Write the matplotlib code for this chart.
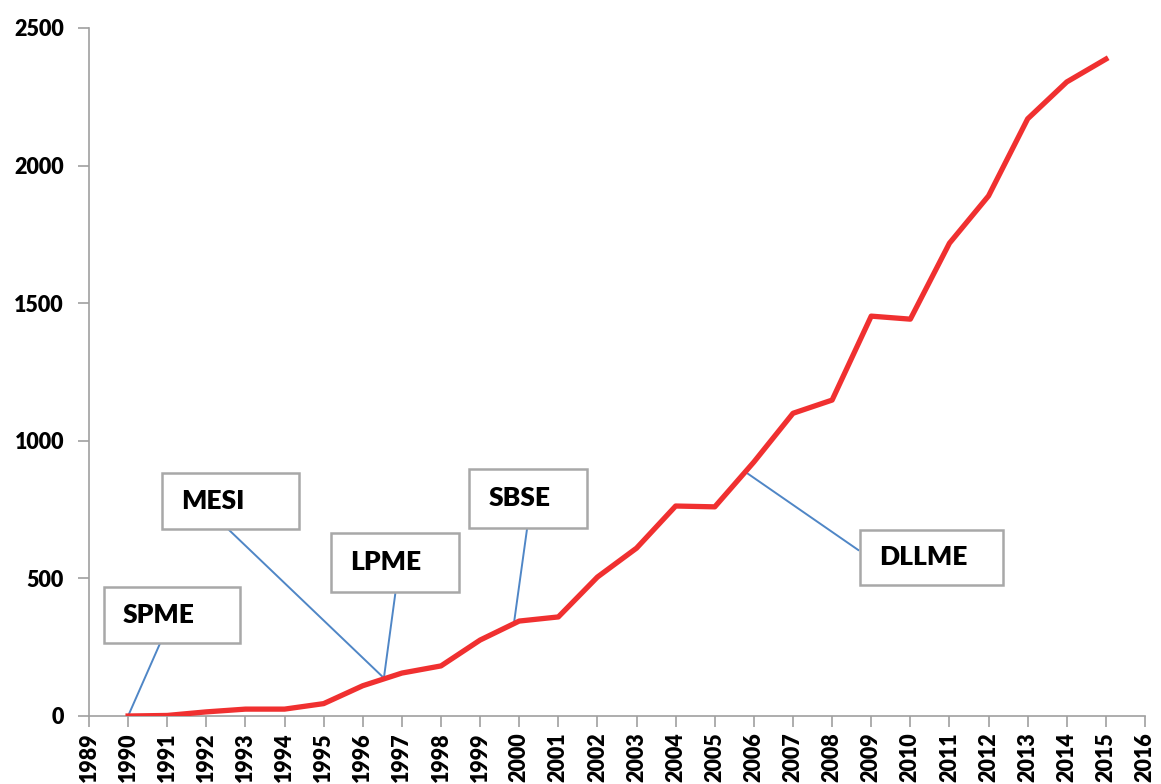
import matplotlib
matplotlib.use("Agg")
import matplotlib.pyplot as plt
from matplotlib.patches import Rectangle

# data
years = list(range(1990, 2016))
counts = [0, 2, 15, 25, 25, 45, 110, 156, 182, 276, 345, 360, 505, 610,
          763, 760, 923, 1100, 1148, 1453, 1442, 1718, 1890, 2170, 2304, 2387]

labels = ["SPME", "MESI", "LPME", "SBSE", "DLLME"]
# point on the curve each label refers to (year, value)
targets = [(1990.0, 0), (1996.54, 138), (1996.54, 138), (1999.87, 342), (2005.78, 887)]

# label boxes: (x0, x1, y0, y1) in data units, and where the leader leaves the box
boxes = [(1989.38, 1992.86, 265, 469),
         (1990.87, 1994.37, 680, 883),
         (1995.19, 1998.46, 451, 665),
         (1998.72, 2001.74, 683, 898),
         (2008.72, 2012.38, 476, 676)]
starts = [(1990.82, 265), (1992.58, 676), (1996.83, 443), (2000.20, 680), (2008.67, 603)]

plt.rcParams['font.family'] = ['Lato', 'DejaVu Sans']

fig = plt.figure(figsize=(11.61, 7.84), dpi=100)
ax = fig.add_axes([89 / 1161, 68 / 784, 1056 / 1161, 688 / 784])

ax.plot(years, counts, color='#f03030', lw=3.8, solid_joinstyle='round', zorder=3)

for lab, tgt, box, st in zip(labels, targets, boxes, starts):
    x0, x1, y0, y1 = box
    ax.plot([st[0], tgt[0]], [st[1], tgt[1]], color='#4f86c6', lw=1.4, zorder=2)
    ax.add_patch(Rectangle((x0, y0), x1 - x0, y1 - y0, facecolor='white',
                           edgecolor='#a8a8a8', lw=1.8, zorder=4))
    ax.text(x0 + 0.49, (y0 + y1) / 2, lab, ha='left', va='center',
            fontsize=19, fontweight='heavy', color='black', zorder=5)

ax.set_xlim(1989, 2016)
ax.set_ylim(0, 2500)
ax.set_xticks(range(1989, 2017))
ax.set_xticklabels([str(y) for y in range(1989, 2017)], rotation=90,
                   fontsize=15.5, fontweight='heavy')
ax.set_yticks(range(0, 2501, 500))
ax.set_yticklabels([str(v) for v in range(0, 2501, 500)], fontsize=15.5, fontweight='heavy')

for s in ['top', 'right']:
    ax.spines[s].set_visible(False)
for s in ['left', 'bottom']:
    ax.spines[s].set_color('#a0a0a0')
    ax.spines[s].set_linewidth(1.2)
ax.tick_params(axis='both', colors='#a0a0a0', labelcolor='black', length=8, width=1.2)
ax.tick_params(axis='x', pad=4)
ax.tick_params(axis='y', pad=10)

fig.savefig("out.png", dpi=100)
